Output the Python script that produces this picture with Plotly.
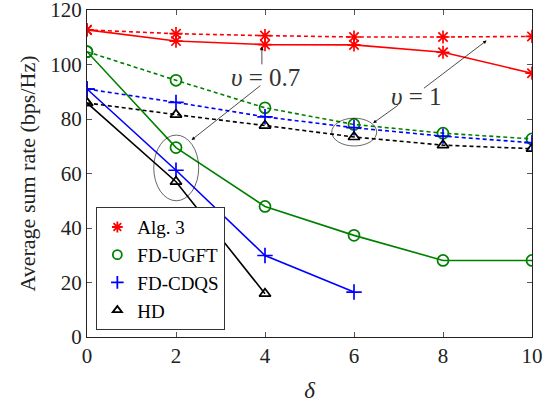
import plotly.graph_objects as go

delta = [0, 2, 4, 6, 8, 10]

alg3_v07 = [112.7, 108.6, 107.3, 107.2, 104.5, 96.8]
alg3_v1 = [112.7, 111.3, 110.6, 110.1, 110.1, 110.3]
ugft_v07 = [104.7, 69.5, 47.9, 37.3, 28.1, 28.1]
ugft_v1 = [104.7, 94.2, 84.1, 78.0, 74.8, 72.7]
cdqs_v07 = [91.0, 61.2, 29.9, 16.5]
cdqs_v1 = [91.0, 86.1, 80.8, 76.8, 73.7, 71.3]
hd_v07 = [85.9, 57.0, 15.9]
hd_v1 = [85.9, 81.6, 77.6, 73.4, 70.4, 69.1]

names = ["Alg. 3", "FD-UGFT", "FD-CDQS", "HD"]
colors = ["#ff0000", "#008000", "#0000ff", "#000000"]
symbols = ["asterisk-open", "circle-open", "cross-thin-open", "triangle-up-open"]
sizes = [11, 11, 11, 10]

series07 = [alg3_v07, ugft_v07, cdqs_v07, hd_v07]
series1 = [alg3_v1, ugft_v1, cdqs_v1, hd_v1]

FONT = "Liberation Serif"
TXT = "#222222"
fig = go.Figure()

for i in range(4):
    fig.add_trace(go.Scatter(
        x=delta[:len(series1[i])], y=series1[i], mode="lines+markers",
        line=dict(color=colors[i], width=1.6, dash="4px,3px"),
        marker=dict(symbol=symbols[i], size=sizes[i], color=colors[i],
                    line=dict(color=colors[i], width=1.7)),
        showlegend=False))
    fig.add_trace(go.Scatter(
        x=delta[:len(series07[i])], y=series07[i], mode="lines+markers",
        line=dict(color=colors[i], width=1.6),
        marker=dict(symbol=symbols[i], size=sizes[i], color=colors[i],
                    line=dict(color=colors[i], width=1.7)),
        showlegend=False))

for i in range(4):
    fig.add_trace(go.Scatter(
        x=[None], y=[None], mode="markers", name=names[i],
        marker=dict(symbol=symbols[i], size=sizes[i] - 2, color=colors[i],
                    line=dict(color=colors[i], width=1.8))))

# ellipses
fig.add_shape(type="circle", xref="x", yref="y", x0=1.50, x1=2.51, y0=50.0, y1=74.1,
              line=dict(color="black", width=0.6))
fig.add_shape(type="circle", xref="x", yref="y", x0=5.50, x1=6.51, y0=70.1, y1=80.3,
              line=dict(color="black", width=0.6))

arrows = [
    ((3.93, 99.5), (3.93, 106.5)),
    ((3.93, 92.7), (2.35, 72.3)),
    ((7.54, 90.9), (8.98, 108.8)),
    ((7.02, 85.4), (6.43, 78.5)),
]
for (tx, ty), (hx, hy) in arrows:
    fig.add_annotation(x=hx, y=hy, ax=tx, ay=ty, xref="x", yref="y", axref="x", ayref="y",
                       text="", showarrow=True, arrowhead=2, arrowsize=1.0, arrowwidth=0.7,
                       arrowcolor="black")

fig.add_annotation(x=4.02, y=95.3, xref="x", yref="y", text="<i>υ</i> = 0.7", showarrow=False,
                   font=dict(family=FONT, size=25, color="#333333"))
fig.add_annotation(x=7.41, y=88.3, xref="x", yref="y", text="<i>υ</i> = 1", showarrow=False,
                   font=dict(family=FONT, size=25, color="#333333"))

axis_common = dict(showgrid=False, zeroline=False, ticks="inside", ticklen=5, tickwidth=0.8,
                   tickcolor="#555555", mirror="ticks", showline=True, linecolor="#222222",
                   linewidth=1, automargin=False, ticklabeloverflow="allow",
                   tickfont=dict(family=FONT, size=21, color=TXT))

fig.update_layout(
    width=550, height=406,
    margin=dict(l=87, r=18, t=10, b=69),
    paper_bgcolor="white", plot_bgcolor="white",
    xaxis=dict(range=[0, 10], tickvals=[0, 2, 4, 6, 8, 10], ticktext=["0", "2", "4", "6", "8", "10"],
               title=dict(text="<i>δ</i>", font=dict(family=FONT, size=23, color=TXT), standoff=14),
               **axis_common),
    yaxis=dict(range=[0, 120], tickvals=[0, 20, 40, 60, 80, 100, 120],
               ticktext=["0", "20", "40", "60", "80", "100", "120"],
               title=dict(text="Average sum rate (bps/Hz)", font=dict(family=FONT, size=22, color=TXT),
                          standoff=8),
               **axis_common),
    legend=dict(x=0.021, y=0.021, xanchor="left", yanchor="bottom",
                bgcolor="white", bordercolor="#333333", borderwidth=1,
                font=dict(family=FONT, size=19, color="black"),
                itemwidth=30, tracegroupgap=0),
)

fig.write_html("out.html", config={"displayModeBar": False},
               post_script="document.body.style.margin='0';document.body.style.padding='0';")
